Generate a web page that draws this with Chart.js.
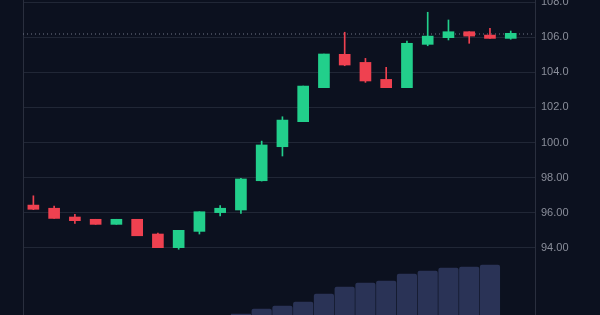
<!DOCTYPE html>
<html>
<head>
<meta charset="utf-8">
<script src="https://cdn.jsdelivr.net/npm/chart.js@4/dist/chart.umd.min.js"></script>
<style>
  html, body { margin: 0; padding: 0; background: #0c111f; }
  #wrap { width: 600px; height: 315px; position: relative; }
</style>
</head>
<body>
<div id="wrap"><canvas id="chart"></canvas></div>
<script>
// OHLC, one entry per session
const opens  = [96.43, 96.25, 95.75, 95.62, 95.33, 95.62, 94.78, 94.00, 94.93, 96.00, 96.15, 97.82,
                99.76, 101.19, 103.13, 105.03, 104.57, 103.60, 103.13, 105.60, 105.98, 106.32, 106.13, 105.94];
const highs  = [96.96, 96.38, 95.90, 95.62, 95.62, 95.62, 94.83, 94.99, 96.05, 96.40, 97.96, 100.08,
                101.47, 103.22, 105.05, 106.29, 104.80, 104.29, 105.79, 107.43, 106.99, 106.32, 106.51, 106.36];
const lows   = [96.17, 95.67, 95.39, 95.33, 95.33, 94.68, 94.00, 93.91, 94.78, 95.81, 95.96, 97.80,
                99.23, 101.19, 103.13, 104.38, 103.43, 103.13, 103.13, 105.52, 105.85, 105.66, 105.94, 105.89];
const closes = [96.19, 95.67, 95.54, 95.33, 95.62, 94.68, 94.00, 94.99, 96.05, 96.25, 97.92, 99.86,
                101.28, 103.22, 105.05, 104.42, 103.51, 103.13, 105.66, 106.07, 106.32, 106.07, 105.94, 106.23];
const volumes = [null, null, null, null, null, null, null, null, null, null, 10, 60,
                 90, 130, 210, 280, 320, 340, 410, 440, 470, 480, 500, null];
const priceTicks = [94, 96, 98, 100, 102, 104, 106, 108];
const lastPrice = 106.19;

const UP = "#22cf8b";
const DOWN = "#ef4150";

const idx = opens.map((_, i) => i);
const colors = idx.map(i => closes[i] >= opens[i] ? UP : DOWN);

const ctx = document.getElementById("chart").getContext("2d");

new Chart(ctx, {
  data: {
    datasets: [
      {
        type: "bar",
        data: idx.map(i => ({ x: i, y: [opens[i], closes[i]] })),
        backgroundColor: colors,
        borderWidth: 0,
        barThickness: 11,
        grouped: false,
        yAxisID: "y",
        order: 0
      },
      {
        type: "bar",
        data: idx.map(i => ({ x: i, y: [lows[i], highs[i]] })),
        backgroundColor: colors,
        borderWidth: 0,
        barThickness: 1,
        grouped: false,
        yAxisID: "y",
        order: 1
      },
      {
        // dotted last-price line
        type: "line",
        data: [{ x: -0.5, y: lastPrice }, { x: 24.17, y: lastPrice }],
        borderColor: "#737989",
        borderWidth: 1,
        borderDash: [1, 3],
        pointRadius: 0,
        yAxisID: "y",
        order: 2
      },
      {
        type: "bar",
        data: idx.map(i => ({ x: i, y: volumes[i] })),
        backgroundColor: "#2a3356",
        borderWidth: 0,
        borderRadius: { topLeft: 2, topRight: 2 },
        borderSkipped: "bottom",
        barThickness: 19.5,
        grouped: false,
        yAxisID: "yVol",
        order: 3
      }
    ]
  },
  options: {
    animation: false,
    responsive: true,
    maintainAspectRatio: false,
    layout: { padding: { left: 23, right: 0, top: 0, bottom: 0 } },
    plugins: { legend: { display: false }, tooltip: { enabled: false } },
    scales: {
      x: {
        type: "linear",
        display: false,
        offset: false,
        bounds: "ticks",
        min: -0.5,
        max: 24.17
      },
      y: {
        position: "right",
        min: 90.16,
        max: 108.13,
        afterBuildTicks: scale => {
          scale.ticks = priceTicks.map(v => ({ value: v }));
        },
        afterFit: scale => {
          scale.width = 65;
          scale.paddingTop = 0;
          scale.paddingBottom = 0;
        },
        grid: { color: "#212736", lineWidth: 1, drawTicks: false },
        border: { display: true, color: "#2a2f3e", width: 1 },
        ticks: {
          color: "#8a8e9a",
          padding: 6,
          font: { family: "'Liberation Sans', Arial, sans-serif", size: 11 },
          callback: v => v >= 100 ? v.toFixed(1) : v.toFixed(2)
        }
      },
      yVol: {
        position: "left",
        min: 0,
        max: 3150,
        grid: { display: false, drawTicks: false },
        border: { display: true, color: "#2a2f3e", width: 1 },
        ticks: { display: false },
        afterFit: scale => {
          scale.width = 0;
          scale.paddingTop = 0;
          scale.paddingBottom = 0;
        }
      }
    }
  }
});
</script>
</body>
</html>
